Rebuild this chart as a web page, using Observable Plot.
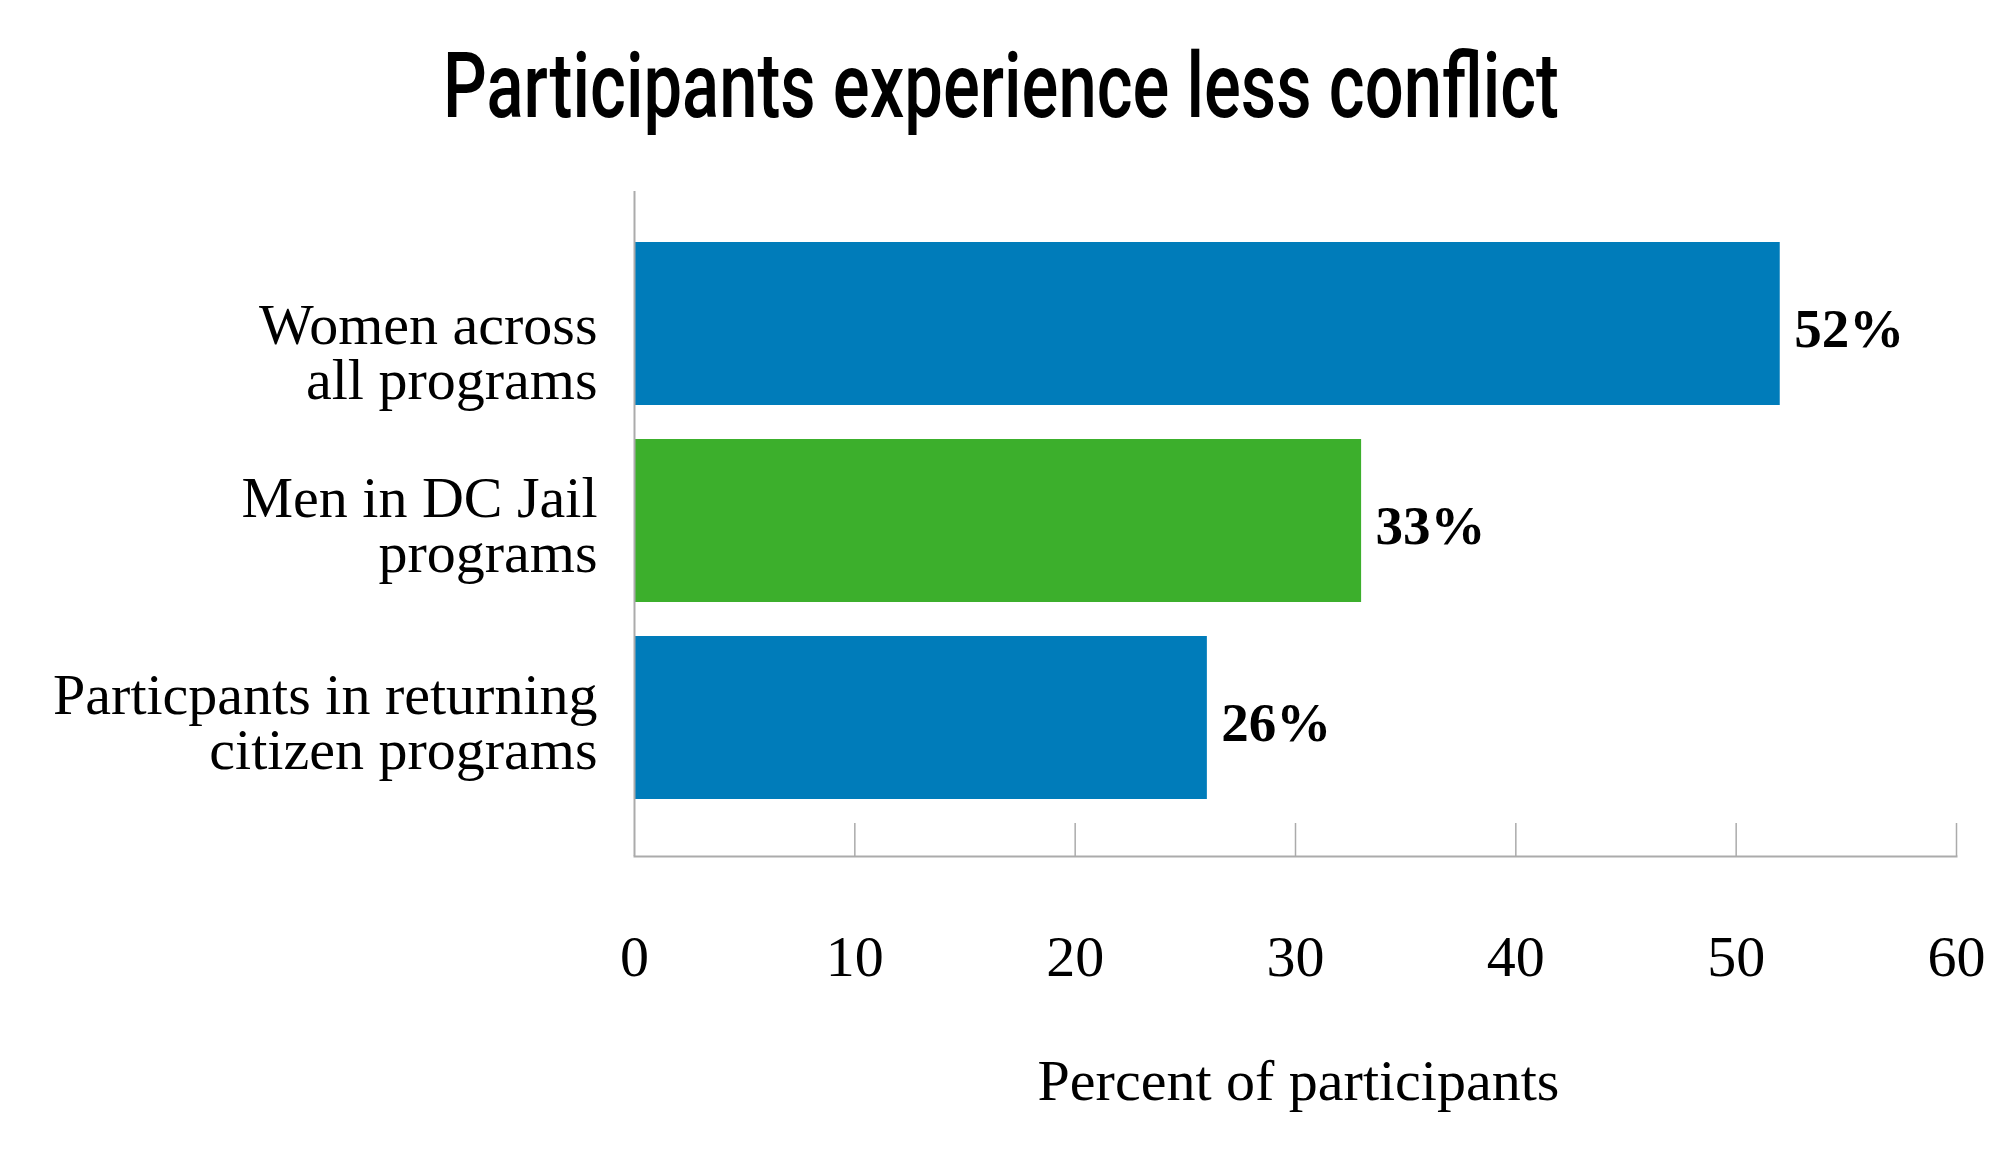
<!DOCTYPE html>
<html>
<head>
<meta charset="utf-8">
<script src="https://cdn.jsdelivr.net/npm/d3@7"></script>
<script src="https://cdn.jsdelivr.net/npm/@observablehq/plot@0.6"></script>
<style>
  html, body { margin: 0; padding: 0; background: #fff; }
  #wrap { width: 2000px; }
  #title { position: relative; height: 170px; width: 2000px; }
  #title span {
    position: absolute; top: 42px; left: 1001px; white-space: nowrap;
    font-family: Roboto, "Noto Sans", sans-serif; font-weight: 500; font-size: 90px; line-height: 1;
    color: #000; transform-origin: 0 0;
  }
  svg { display: block; }
</style>
</head>
<body>
<div id="wrap">
  <div id="title"><span id="t">Participants experience less conflict</span></div>
  <div id="chart"></div>
</div>
<script>
const categories = [
  "Women across all programs",
  "Men in DC Jail programs",
  "Particpants in returning citizen programs"
];
const tickLabels = [
  "Women across\nall programs",
  "Men in DC Jail\nprograms",
  "Particpants in returning\ncitizen programs"
];
const values = [52, 33, 26];
const xTicks = [0, 10, 20, 30, 40, 50, 60];
const barColors = ["#007cba", "#3caf2c", "#007cba"];
const axisTitle = "Percent of participants";

const data = categories.map((c, i) => ({category: c, value: values[i]}));

// title: condense to match reference width
const t = document.getElementById("t");
const w = t.getBoundingClientRect().width;
const s = 1116 / w;
t.style.transform = `scaleX(${s}) translateX(-50%)`;

const serif = "'Liberation Serif', 'DejaVu Serif', serif";
const gray = "#ababab";
const yLabel = d => tickLabels[categories.indexOf(d)];

const chart = Plot.plot({
  width: 2000,
  height: 984,
  marginTop: 21,
  marginBottom: 298,
  marginLeft: 634,
  marginRight: 44,
  style: {fontFamily: serif, color: "#000", background: "#fff"},
  x: {domain: [0, 60], label: null},
  y: {domain: categories, paddingInner: 0.175, paddingOuter: 0.271, align: 0.47, label: null},
  color: {domain: categories, range: barColors},
  marks: [
    Plot.barX(data, {x: "value", y: "category", fill: "category"}),
    Plot.ruleX(xTicks.slice(1), {insetTop: 632, stroke: gray, strokeWidth: 1.5}),
    Plot.ruleX([0], {stroke: gray, strokeWidth: 2}),
    Plot.frame({anchor: "bottom", stroke: gray, strokeWidth: 2}),
    Plot.axisX({ticks: xTicks, tickSize: 0, tickPadding: 78, fontSize: 58, label: null, tickFormat: d => String(d)}),
    Plot.axisY({ticks: categories.slice(0, 1), tickSize: 0, tickPadding: 37, fontSize: 58, lineHeight: 0.95,
      dy: 30, label: null, tickFormat: yLabel}),
    Plot.axisY({ticks: categories.slice(1), tickSize: 0, tickPadding: 37, fontSize: 58, lineHeight: 0.95,
      dy: 6, label: null, tickFormat: yLabel}),
    Plot.text(data, {x: "value", y: "category", text: d => d.value + "%", textAnchor: "start",
      dx: 14, dy: 5, fontSize: 55, fontWeight: "bold", fill: "#000"}),
    Plot.text([axisTitle], {frameAnchor: "bottom", textAnchor: "middle", lineAnchor: "middle",
      dx: 3, dy: 225, fontSize: 58, fill: "#000"})
  ]
});
document.getElementById("chart").appendChild(chart);
</script>
</body>
</html>
